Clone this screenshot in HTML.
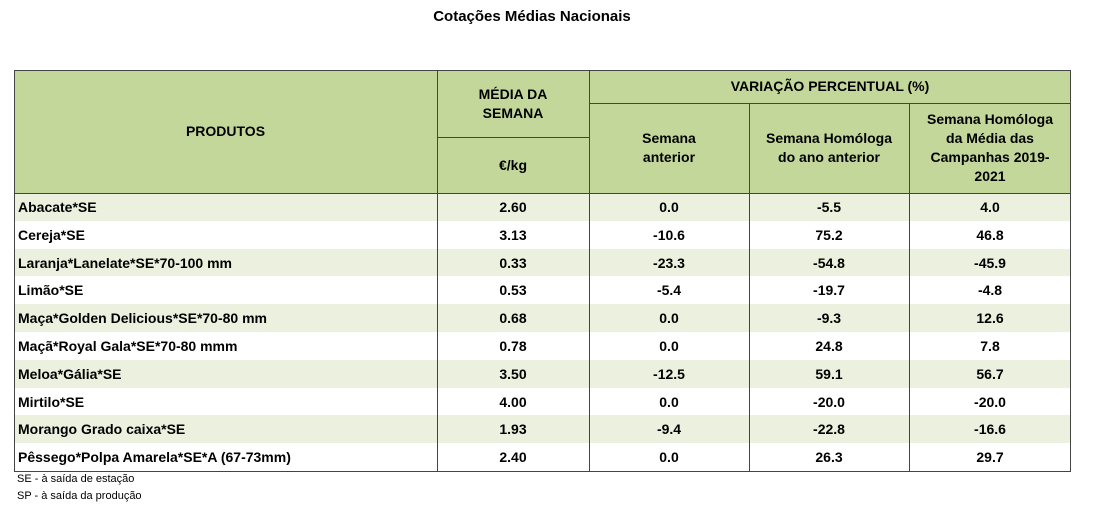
<!DOCTYPE html>
<html><head><meta charset="utf-8"><style>
body{margin:0;width:1101px;height:517px;background:#fff;font-family:"Liberation Sans",Arial,sans-serif;position:relative;overflow:hidden}
.a{position:absolute;box-sizing:border-box}
.h{background:#c4d79b;display:flex;align-items:center;justify-content:center;text-align:center;font-weight:bold;font-size:14px;line-height:19px;color:#000}
.r{position:absolute;left:14px;width:1057px;height:27.8px;font-weight:bold;font-size:14px;color:#000}
.r div{position:absolute;top:0;height:100%;line-height:28px;text-align:center}
.v{position:absolute;top:193px;height:278px;width:1px;background:#444}
.hl{position:absolute;height:1px;background:#444}
</style></head><body>
<div class="a" style="left:0;width:1064px;top:8px;text-align:center;font-weight:bold;font-size:15px">Cotações Médias Nacionais</div>
<div>
<div class="a h" style="left:14px;top:70px;width:423px;height:123px">PRODUTOS</div>
<div class="a h" style="left:437px;top:70px;width:152px;height:67px">MÉDIA DA<br>SEMANA</div>
<div class="a h" style="left:437px;top:137px;width:152px;height:56px">€/kg</div>
<div class="a h" style="left:589px;top:70px;width:482px;height:33px">VARIAÇÃO PERCENTUAL (%)</div>
<div class="a h" style="left:589px;top:103px;width:160px;height:90px">Semana<br>anterior</div>
<div class="a h" style="left:749px;top:103px;width:160px;height:90px">Semana Homóloga<br>do ano anterior</div>
<div class="a h" style="left:909px;top:103px;width:162px;height:90px">Semana Homóloga<br>da Média das<br>Campanhas 2019-<br>2021</div>
<div id="rows"></div>
<div class="hl" style="left:14px;top:70px;width:1057px"></div>
<div class="hl" style="left:589px;top:103px;width:482px"></div>
<div class="hl" style="left:437px;top:137px;width:152px"></div>
<div class="hl" style="left:14px;top:193px;width:1057px"></div>
<div class="hl" style="left:14px;top:471px;width:1057px"></div>
<div class="a" style="left:14px;top:70px;width:1px;height:402px;background:#444"></div>
<div class="a" style="left:1070px;top:70px;width:1px;height:402px;background:#444"></div>
<div class="a" style="left:437px;top:70px;width:1px;height:402px;background:#444"></div>
<div class="a" style="left:589px;top:70px;width:1px;height:402px;background:#444"></div>
<div class="a" style="left:749px;top:103px;width:1px;height:369px;background:#444"></div>
<div class="a" style="left:909px;top:103px;width:1px;height:369px;background:#444"></div>
</div>
<div class="a" style="left:17px;top:473px;font-size:11px">SE - à saída de estação</div>
<div class="a" style="left:17px;top:490px;font-size:11px">SP - à saída da produção</div>
<script>
const products=["Abacate*SE","Cereja*SE","Laranja*Lanelate*SE*70-100 mm","Limão*SE","Maça*Golden Delicious*SE*70-80 mm","Maçã*Royal Gala*SE*70-80 mmm","Meloa*Gália*SE","Mirtilo*SE","Morango Grado caixa*SE","Pêssego*Polpa Amarela*SE*A (67-73mm)"];
const media=["2.60","3.13","0.33","0.53","0.68","0.78","3.50","4.00","1.93","2.40"];
const semAnt=["0.0","-10.6","-23.3","-5.4","0.0","0.0","-12.5","0.0","-9.4","0.0"];
const homAno=["-5.5","75.2","-54.8","-19.7","-9.3","24.8","59.1","-20.0","-22.8","26.3"];
const homCamp=["4.0","46.8","-45.9","-4.8","12.6","7.8","56.7","-20.0","-16.6","29.7"];
const cont=document.getElementById('rows');
products.forEach((p,i)=>{
 const r=document.createElement('div');
 r.className='r';
 
 
 r.style.top=(193+i*27.8)+'px';
 r.style.background=i%2===0?'#ebf1de':'#fff';
 const cells=[[p,4,419,'left'],[media[i],423,152],[semAnt[i],575,160],[homAno[i],735,160],[homCamp[i],895,162]];
 cells.forEach(c=>{
  const d=document.createElement('div');
  
  
  d.style.left=c[1]+'px';d.style.width=c[2]+'px';
  if(c[3])d.style.textAlign='left';
  d.textContent=c[0];r.appendChild(d);
 });
 cont.appendChild(r);
});
</script>
</body></html>
